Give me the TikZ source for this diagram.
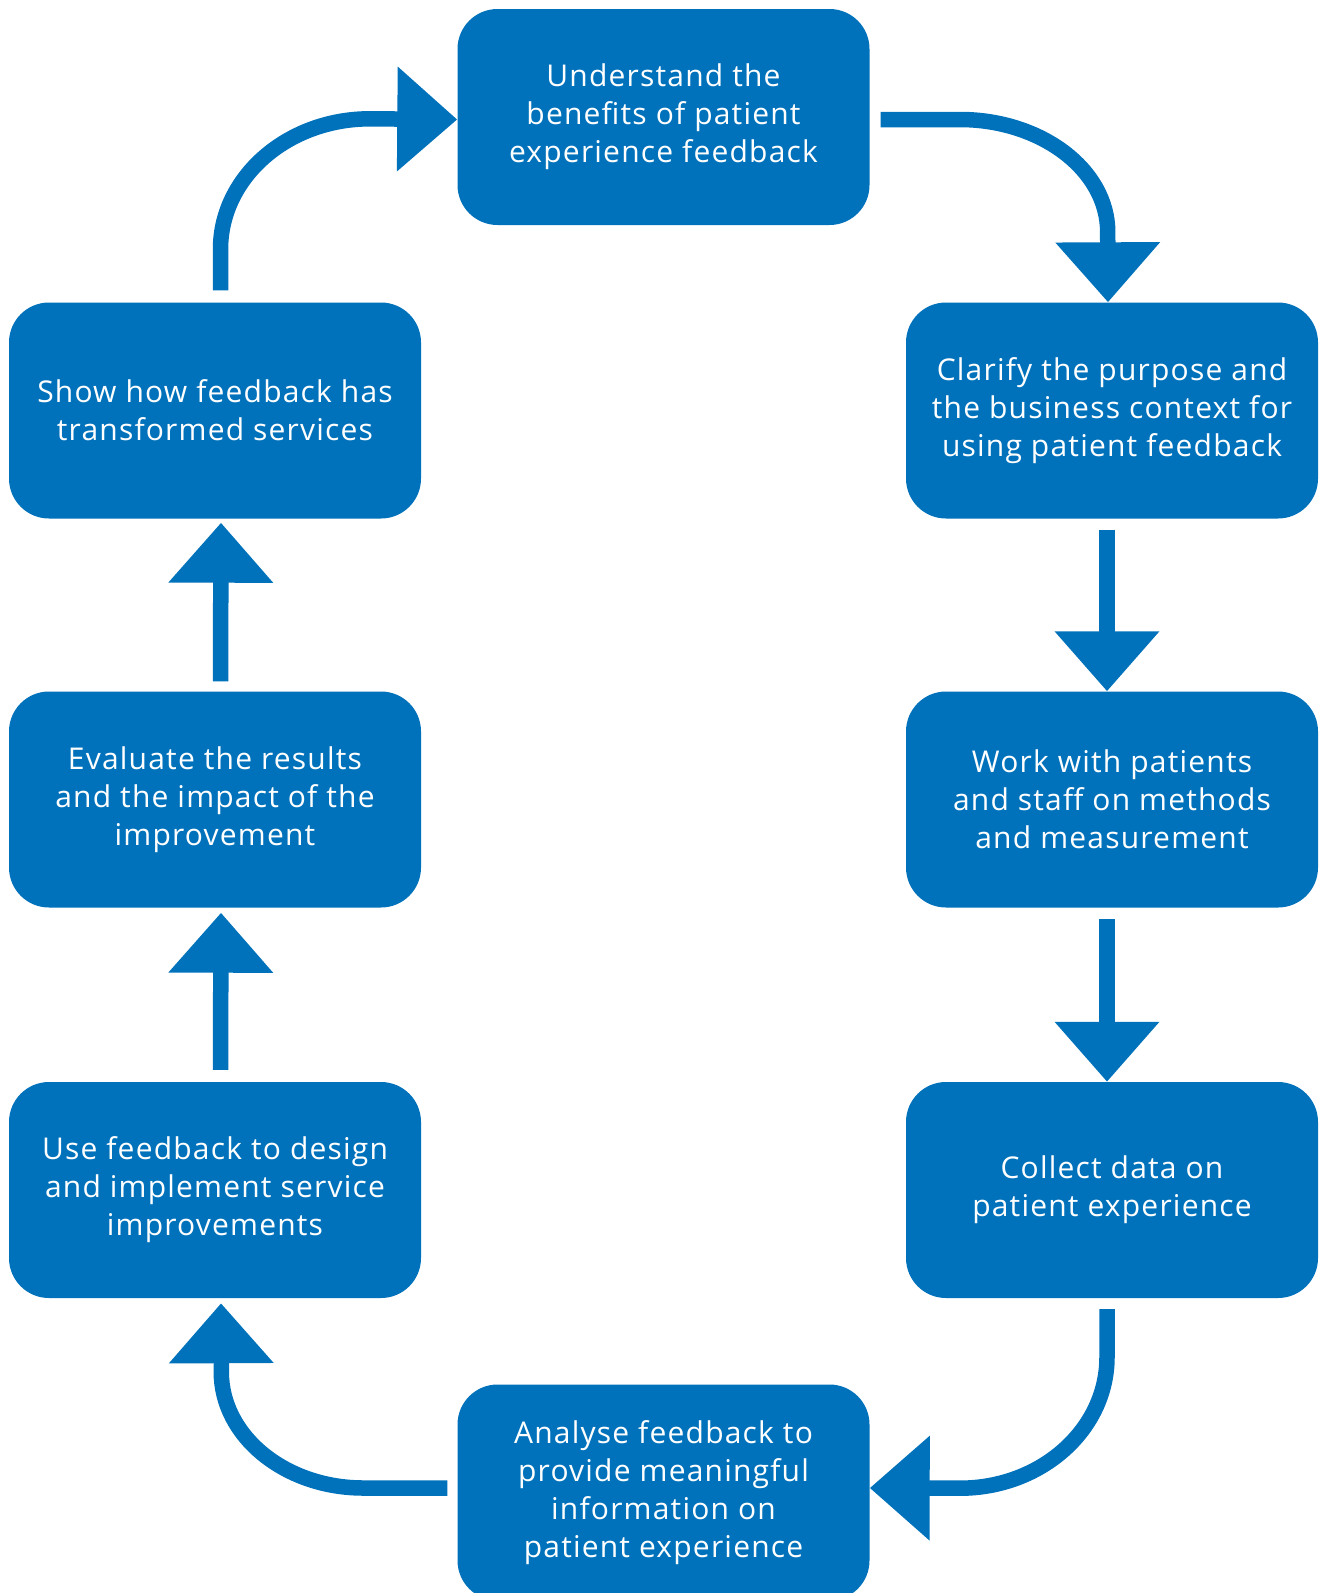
\documentclass[tikz,border=0pt]{standalone}
\usepackage{fontspec}
\setmainfont{Open Sans}[LetterSpace=4]
\usetikzlibrary{arrows.meta,calc}
\definecolor{nhsblue}{RGB}{0,114,187}
\begin{document}
\begin{tikzpicture}[x=1pt,y=-1pt,
  stepbox/.style={rectangle, rounded corners=40pt, fill=nhsblue, text=white,
    minimum width=412pt, minimum height=216pt, inner sep=0pt, align=center,
    font=\fontsize{30}{38}\selectfont},
  conn/.style={draw=nhsblue, line width=15.5pt,
    -{Triangle[length=60pt 0, width=101pt 0]}}]
\fill[white] (0,0) rectangle (1327,1593);
\clip (0,0) rectangle (1327,1593);
\node[stepbox] (u) at (663.5,117) {Understand the\\benefits of patient\\experience feedback};
\node[stepbox] (c) at (1112,410.5) {Clarify the purpose and\\the business context for\\using patient feedback};
\node[stepbox] (w) at (1112,799.5) {Work with patients\\and staff on methods\\and measurement};
\node[stepbox] (d) at (1112,1190) {Collect data on\\patient experience};
\node[stepbox] (a) at (663.5,1492.5) {Analyse feedback to\\provide meaningful\\information on\\patient experience};
\node[stepbox] (f) at (215,1190) {Use feedback to design\\and implement service\\improvements};
\node[stepbox] (e) at (215,799.5) {Evaluate the results\\and the impact of the\\improvement};
\node[stepbox] (s) at (215,410.5) {Show how feedback has\\transformed services};
% connectors
\draw[conn] ($(u.east)+(11,2.5)$) -- ++(79,0)
  .. controls +(81.7,0) and +(0,-62) .. ++(148,112.5)
  -- ($(c.north)+(-4,0)$);
\draw[conn] ($(c.south)+(-5,11)$) -- ($(w.north)+(-5,0)$);
\draw[conn] ($(w.south)+(-5,11.5)$) -- ($(d.north)+(-5,0)$);
\draw[conn] ($(d.south)+(-5,11)$) -- ++(0,48)
  .. controls +(0,72.4) and +(81.2,0) .. ++(-147,131)
  -- ($(a.east)+(0,-4.5)$);
\draw[conn] ($(a.west)+(-10,-4.5)$) -- ++(-84,0)
  .. controls +(-78.4,0) and +(0,64) .. ++(-142,-116)
  -- ($(f.south)+(6,5)$);
\draw[conn] ($(f.north)+(5.5,-12)$) -- ($(e.south)+(6,5)$);
\draw[conn] ($(e.north)+(5.5,-10)$) -- ($(s.south)+(6,4)$);
\draw[conn] ($(s.north)+(5.5,-12)$) -- ++(0,-41)
  .. controls +(0,-72.1) and +(-82.6,0) .. ++(149.5,-130.5)
  -- ($(u.west)+(0,2.5)$);
\end{tikzpicture}
\end{document}
